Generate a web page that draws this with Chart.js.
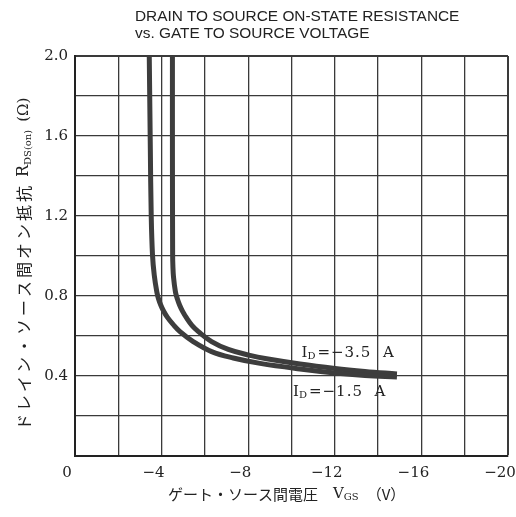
<!DOCTYPE html>
<html>
<head>
    <meta charset="UTF-8">
    <title>RDS(on) vs VGS</title>
    <script src="https://cdn.jsdelivr.net/npm/chart.js"></script>
    <style>
        body { margin: 0; background: #fff; }
        #wrap { position: relative; width: 516px; height: 517px; }
        #title {
            position: absolute; left: 135px; top: 7px;
            font: 15.4px 'Liberation Sans', Arial, sans-serif;
            line-height: 17px; color: #222; white-space: pre;
        }
        canvas { position: absolute; left: 0; top: 0; }
    </style>
</head>
<body>
    <div id="wrap">
        <canvas id="rdsChart" width="516" height="517"></canvas>
        <div id="title">DRAIN TO SOURCE ON-STATE RESISTANCE
vs. GATE TO SOURCE VOLTAGE</div>
    </div>

    <script>
        // Данные кривых (VGS, В ; RDS(on), Ом)
        const vgsLow = [-3.43, -3.48, -3.52, -3.58, -3.66, -3.78, -3.86, -3.96, -4.09, -4.27, -4.53, -4.85, -5.46, -6.31, -7.31, -8.55, -10.39, -12.01, -13.39, -14.87];
        const rdsLow = [2.0, 1.53, 1.205, 1.005, 0.905, 0.82, 0.785, 0.755, 0.725, 0.693, 0.658, 0.622, 0.572, 0.522, 0.49, 0.463, 0.435, 0.415, 0.403, 0.395];

        const vgsHigh = [-4.50, -4.50, -4.51, -4.52, -4.55, -4.64, -4.73, -4.83, -4.97, -5.16, -5.40, -5.70, -6.31, -7.08, -8.08, -8.85, -10.39, -12.01, -13.39, -14.87];
        const rdsHigh = [2.0, 1.53, 1.005, 0.955, 0.895, 0.82, 0.785, 0.755, 0.723, 0.689, 0.653, 0.622, 0.572, 0.533, 0.503, 0.486, 0.46, 0.438, 0.423, 0.41];

        const curveNames = ['−1.5', '−3.5'];
        const labelPos = [[-10.07, 0.32], [-10.46, 0.512]];

        const serif = "'DejaVu Serif', serif";
        const jp = "'Noto Sans CJK JP', sans-serif";

        // Рисуем текст из кусков (обычный + подстрочный)
        function drawParts(ctx, parts, x, y) {
            parts.forEach(p => {
                ctx.font = p.font;
                ctx.letterSpacing = p.ls || '0px';
                ctx.fillText(p.text, x, y + (p.dy || 0));
                x += ctx.measureText(p.text).width + (p.gap || 0);
            });
            ctx.letterSpacing = '0px';
        }

        const textPlugin = {
            id: 'texts',
            afterDatasetsDraw(chart) {
                const ctx = chart.ctx;
                const xs = chart.scales.x, ys = chart.scales.y;
                const area = chart.chartArea;
                ctx.save();
                ctx.fillStyle = '#222';
                ctx.textBaseline = 'middle';
                ctx.textAlign = 'left';

                // подписи кривых
                labelPos.forEach((pos, i) => {
                    drawParts(ctx, [
                        { text: 'I', font: '15px ' + serif },
                        { text: 'D', font: '10px ' + serif, dy: 3, gap: 2 },
                        { text: '=' + curveNames[i] + '  A', font: '15px ' + serif, ls: '1px' }
                    ], xs.getPixelForValue(pos[0]), ys.getPixelForValue(pos[1]));
                });

                // подпись оси X
                drawParts(ctx, [
                    { text: 'ゲート・ソース間電圧', font: '15px ' + jp, gap: 15 },
                    { text: 'V', font: '15px ' + serif },
                    { text: 'GS', font: '10px ' + serif, dy: 3, gap: 8 },
                    { text: '（V）', font: '15px ' + jp }
                ], area.left + 93, area.bottom + 38);

                // подпись оси Y (повернутая)
                ctx.translate(24, area.bottom - 26);
                ctx.rotate(-Math.PI / 2);
                drawParts(ctx, [
                    { text: 'ドレイン・ソース間オン抵抗', font: '16px ' + jp, ls: '3px', gap: 6 },
                    { text: 'R', font: '16px ' + serif },
                    { text: 'DS(on)', font: '10px ' + serif, dy: 4, gap: 8 },
                    { text: '(Ω)', font: '15px ' + serif }
                ], 0, 0);
                ctx.restore();
            }
        };

        const ctx = document.getElementById('rdsChart').getContext('2d');
        const gridColor = '#3a3a3a';

        new Chart(ctx, {
            type: 'line',
            data: {
                datasets: [
                    {
                        label: 'ID = -1.5 A',
                        data: vgsLow.map((v, i) => ({ x: v, y: rdsLow[i] })),
                        borderColor: '#3d3d3d', borderWidth: 5, pointRadius: 0,
                        tension: 0.4, fill: false
                    },
                    {
                        label: 'ID = -3.5 A',
                        data: vgsHigh.map((v, i) => ({ x: v, y: rdsHigh[i] })),
                        borderColor: '#3d3d3d', borderWidth: 5, pointRadius: 0,
                        tension: 0.4, fill: false
                    }
                ]
            },
            options: {
                responsive: false,
                animation: false,
                layout: { padding: { top: 56, right: 8, left: 0, bottom: 0 } },
                plugins: { legend: { display: false }, tooltip: { enabled: false }, title: { display: false } },
                scales: {
                    x: {
                        type: 'linear', min: -20, max: 0, reverse: true,
                        afterFit: s => { s.height = 61; s.paddingLeft = 0; s.paddingRight = 0; },
                        border: { display: true, width: 2, color: '#222' },
                        grid: {
                            color: gridColor, drawTicks: false,
                            lineWidth: c => (c.tick && c.tick.value === -20 ? 2 : 1.3)
                        },
                        ticks: {
                            stepSize: 2, autoSkip: false, maxRotation: 0, padding: 8, labelOffset: -8,
                            color: '#222', font: { family: "'DejaVu Serif', serif", size: 15 },
                            callback: v => (v % 4 === 0 ? (v === 0 ? '0' : '−' + Math.abs(v)) : '')
                        }
                    },
                    y: {
                        min: 0, max: 2,
                        afterFit: s => { s.width = 75; s.paddingTop = 0; s.paddingBottom = 0; },
                        border: { display: true, width: 2, color: '#222' },
                        grid: {
                            color: gridColor, drawTicks: false,
                            lineWidth: c => (c.tick && c.tick.value === 2 ? 2 : 1.3)
                        },
                        ticks: {
                            stepSize: 0.2, autoSkip: false, padding: 7,
                            color: '#222', font: { family: "'DejaVu Serif', serif", size: 15 },
                            callback: v => {
                                const k = Math.round(v * 10);
                                return (k % 4 === 0 && k !== 0) ? (k / 10).toFixed(1) : '';
                            }
                        }
                    }
                }
            },
            plugins: [textPlugin]
        });
    </script>
</body>
</html>
